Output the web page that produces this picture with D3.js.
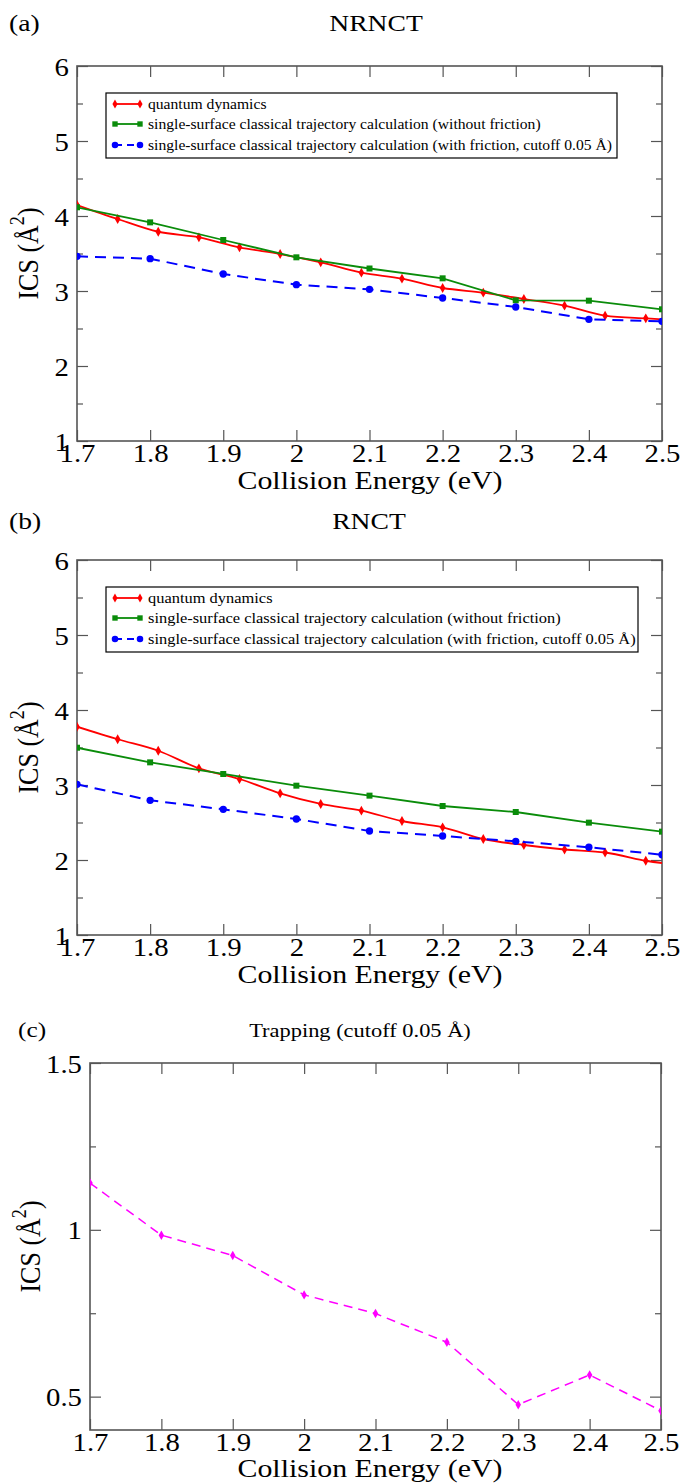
<!DOCTYPE html>
<html><head><meta charset="utf-8">
<script src="https://cdn.jsdelivr.net/npm/d3@7"></script>
<style>body{margin:0;background:#fff}svg{display:block} text{font-family:"Liberation Serif", Tinos, "Times New Roman", Times, serif;}</style>
</head><body>
<script>
// ---------- data ----------
const energies = [1.7, 1.8, 1.9, 2.0, 2.1, 2.2, 2.3, 2.4, 2.5];
const xTickLabels = ["1.7","1.8","1.9","2","2.1","2.2","2.3","2.4","2.5"];
const qdEnergies = [1.7, 1.7556, 1.8111, 1.8667, 1.9222, 1.9778, 2.0333, 2.0889, 2.1444, 2.2, 2.2556, 2.3111, 2.3667, 2.4222, 2.4778, 2.5];

const nrnctQD = [4.147, 3.96, 3.79, 3.716, 3.582, 3.493, 3.382, 3.244, 3.164, 3.04, 2.978, 2.893, 2.804, 2.671, 2.636, 2.622];
const nrnctNoFric = [4.116, 3.915, 3.68, 3.449, 3.30, 3.169, 2.876, 2.871, 2.756];
const nrnctFric = [3.462, 3.431, 3.227, 3.084, 3.022, 2.907, 2.787, 2.622, 2.596];

const rnctQD = [3.777, 3.61, 3.457, 3.222, 3.08, 2.889, 2.747, 2.658, 2.52, 2.436, 2.28, 2.2, 2.14, 2.1, 1.99, 1.96];
const rnctNoFric = [3.497, 3.302, 3.147, 2.991, 2.858, 2.72, 2.64, 2.498, 2.378];
const rnctFric = [3.009, 2.796, 2.676, 2.547, 2.387, 2.32, 2.249, 2.17, 2.07];

const trapping = [1.14, 0.984, 0.923, 0.805, 0.749, 0.663, 0.476, 0.565, 0.458];

const icsMajorTicks = [1, 2, 3, 4, 5, 6];
const icsMinorTicks = [1.5, 2.5, 3.5, 4.5, 5.5];
const trapMajorTicks = [0.5, 1, 1.5];
const trapMinorTicks = [0.75, 1.25];

const legendLabels = [
  "quantum dynamics",
  "single-surface classical trajectory calculation (without friction)",
  "single-surface classical trajectory calculation (with friction, cutoff 0.05 \u00C5)"
];

// ---------- drawing ----------
const SX = 1.15; // horizontal stretch of the original figure's text
const svg = d3.select("body").append("svg").attr("width",683).attr("height",1483);

function txt(parent, x, y, s, size, anchor, rot){
  const sc = rot ? `scale(1,${SX})` : `scale(${SX},1)`;
  const g = parent.append("g").attr("transform",`translate(${x},${y}) rotate(${rot||0}) ${sc}`);
  return g.append("text").attr("text-anchor",anchor||"start").attr("font-size",size).attr("fill","#000").text(s);
}

const styles = {
  qd:   {color:"#ff0000", dash:null, sym:d3.symbolDiamond, size:28, curve:d3.curveCatmullRom.alpha(0.5), width:1.8},
  nof:  {color:"#0a8c0a", dash:null, sym:d3.symbolSquare, size:36, curve:d3.curveLinear, width:1.8},
  fric: {color:"#0000ff", dash:"11,7", sym:d3.symbolCircle, size:42, curve:d3.curveLinear, width:2},
  trap: {color:"#ff00ff", dash:"9,6", sym:d3.symbolDiamond, size:26, curve:d3.curveLinear, width:1.5}
};

function panel(p){
  const g = svg.append("g");
  const x = d3.scaleLinear().domain([1.7,2.5]).range([p.left,p.right]);
  const y = d3.scaleLinear().domain(p.yDomain).range([p.bottom,p.top]);
  const axCol = "#555";

  const cid = "clip"+p.id;
  svg.append("clipPath").attr("id",cid).append("rect")
    .attr("x",p.left).attr("y",p.top).attr("width",p.right-p.left).attr("height",p.bottom-p.top);

  const bottom = g.append("g").attr("transform",`translate(0,${p.bottom})`)
    .call(d3.axisBottom(x).tickValues(energies).tickFormat((d,i)=>xTickLabels[i]).tickSizeInner(-11).tickSizeOuter(0).tickPadding(3));
  g.append("g").attr("transform",`translate(0,${p.top})`)
    .call(d3.axisTop(x).tickValues(energies).tickFormat("").tickSizeInner(-11).tickSizeOuter(0));
  const left = g.append("g").attr("transform",`translate(${p.left},0)`)
    .call(d3.axisLeft(y).tickValues(p.major).tickFormat(d=>String(d)).tickSizeInner(-11).tickSizeOuter(0).tickPadding(7));
  g.append("g").attr("transform",`translate(${p.left},0)`)
    .call(d3.axisLeft(y).tickValues(p.minor).tickFormat("").tickSizeInner(-6).tickSizeOuter(0));
  g.append("g").attr("transform",`translate(${p.right},0)`)
    .call(d3.axisRight(y).tickValues(p.major).tickFormat("").tickSizeInner(-11).tickSizeOuter(0));
  g.append("g").attr("transform",`translate(${p.right},0)`)
    .call(d3.axisRight(y).tickValues(p.minor).tickFormat("").tickSizeInner(-6).tickSizeOuter(0));
  g.selectAll(".domain").remove();
  g.selectAll(".tick line").attr("stroke",axCol).attr("stroke-width",1.2);
  [bottom,left].forEach(a=>a.attr("font-family",null).selectAll("text").attr("font-size",p.tickSize).attr("fill","#000")
    .attr("transform",`scale(${SX},1)`));
  left.selectAll("text").attr("dy","0.36em");

  g.append("rect").attr("x",p.left).attr("y",p.top).attr("width",p.right-p.left).attr("height",p.bottom-p.top)
    .attr("fill","none").attr("stroke",axCol).attr("stroke-width",1.6);

  const plot = g.append("g").attr("clip-path",`url(#${cid})`);
  p.series.forEach(s=>{
    const st = styles[s.style];
    const pts = s.x.map((xv,i)=>[xv,s.y[i]]);
    plot.append("path").datum(pts)
      .attr("d",d3.line().x(d=>x(d[0])).y(d=>y(d[1])).curve(st.curve))
      .attr("fill","none").attr("stroke",st.color).attr("stroke-width",st.width)
      .attr("stroke-dasharray",st.dash);
    plot.selectAll(null).data(pts.filter(d=>!(s.style==="qd" && d[0]>=2.5))).enter().append("path")
      .attr("transform",d=>`translate(${x(d[0])},${y(d[1])})`)
      .attr("d",d3.symbol().type(st.sym).size(st.size)).attr("fill",st.color);
  });

  txt(svg, p.tagX, p.titleY, p.tag, p.tagSize, "start");
  txt(svg, p.titleX, p.titleY, p.title, p.titleSize, "middle");
  txt(svg, p.xLabelX, p.xLabelY, "Collision Energy (eV)", p.labelSize, "middle");
  const yl = txt(svg, p.yLabelX, (p.top+p.bottom)/2, "", p.labelSize, "middle", -90);
  yl.append("tspan").text("ICS (\u00C5");
  yl.append("tspan").attr("dy",-12).attr("font-size",p.labelSize*0.7).text("2");
  yl.append("tspan").attr("dy",12).text(")");

  if(p.legend){
    const L = p.legend;
    const lg = svg.append("g");
    lg.append("rect").attr("x",L.x0).attr("y",L.y0).attr("width",L.x1-L.x0).attr("height",L.y1-L.y0)
      .attr("fill","#fff").attr("stroke","#000").attr("stroke-width",1.2);
    ["qd","nof","fric"].forEach((k,i)=>{
      const st = styles[k];
      const yy = L.rows[i];
      lg.append("line").attr("x1",L.x0+9).attr("x2",L.x0+34).attr("y1",yy).attr("y2",yy)
        .attr("stroke",st.color).attr("stroke-width",st.width).attr("stroke-dasharray",k==="fric"?"7,5":null);
      [L.x0+9,L.x0+34].forEach(cx=>lg.append("path").attr("transform",`translate(${cx},${yy})`)
        .attr("d",d3.symbol().type(st.sym).size(st.size*0.8)).attr("fill",st.color));
      txt(lg, L.x0+42, yy+4.5, legendLabels[i], L.size, "start");
    });
  }
}

panel({id:"a", left:77, right:662, top:66, bottom:441, yDomain:[1,6], major:icsMajorTicks, minor:icsMinorTicks,
  tag:"(a)", title:"NRNCT", tagX:9, titleX:376, titleY:31, tagSize:24, titleSize:24, tickSize:25, labelSize:26,
  xLabelX:370, xLabelY:489, yLabelX:38,
  legend:{x0:106,x1:617,y0:93,y1:158,rows:[104,124,145],size:13.6},
  series:[{x:qdEnergies,y:nrnctQD,style:"qd"},{x:energies,y:nrnctNoFric,style:"nof"},{x:energies,y:nrnctFric,style:"fric"}]});

panel({id:"b", left:77, right:662, top:560, bottom:935, yDomain:[1,6], major:icsMajorTicks, minor:icsMinorTicks,
  tag:"(b)", title:"RNCT", tagX:9, titleX:369, titleY:529, tagSize:24, titleSize:24, tickSize:25, labelSize:26,
  xLabelX:370, xLabelY:983, yLabelX:38,
  legend:{x0:106,x1:638,y0:587,y1:652,rows:[598,618,639],size:14.3},
  series:[{x:qdEnergies,y:rnctQD,style:"qd"},{x:energies,y:rnctNoFric,style:"nof"},{x:energies,y:rnctFric,style:"fric"}]});

panel({id:"c", left:90, right:661, top:1063, bottom:1430, yDomain:[0.4,1.5], major:trapMajorTicks, minor:trapMinorTicks,
  tag:"(c)", title:"Trapping (cutoff 0.05 \u00C5)", tagX:18, titleX:360, titleY:1037, tagSize:22, titleSize:19.5, tickSize:25, labelSize:26,
  xLabelX:370, xLabelY:1477, yLabelX:40, legend:null,
  series:[{x:energies,y:trapping,style:"trap"}]});
</script>
</body></html>
